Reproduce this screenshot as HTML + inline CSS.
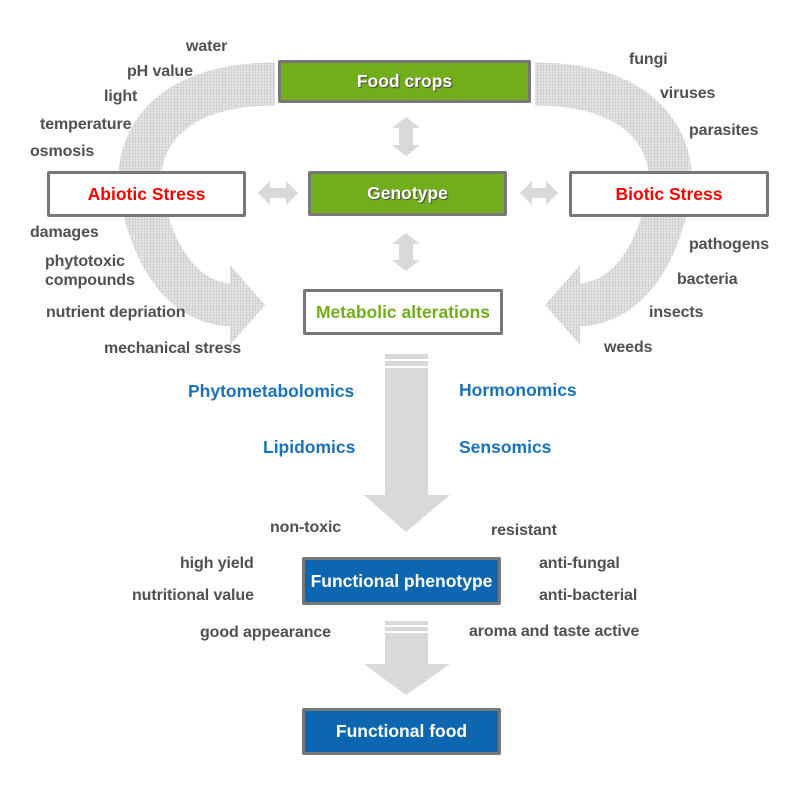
<!DOCTYPE html>
<html><head><meta charset="utf-8"><style>
body{margin:0;width:810px;height:795px;background:#fff;position:relative;overflow:hidden;font-family:"Liberation Sans",Arial,sans-serif;font-weight:bold}
.t{position:absolute;font-size:16px;color:#505050;white-space:nowrap;line-height:18px;letter-spacing:-0.1px}
.b{position:absolute;box-sizing:border-box;border:3px solid #777;display:flex;align-items:center;justify-content:center;font-size:17.5px;border-radius:2px}
.g{background:#72ad1b;color:#fff;text-shadow:1px 1px 1px #444}
.bl{background:#0d66b0;color:#fff}
.w{background:#fff}
.blue{position:absolute;font-size:17.5px;color:#1a72bc;white-space:nowrap}
</style></head><body>
<svg width="810" height="795" style="position:absolute;left:0;top:0">
<defs><pattern id="p" width="3" height="3" patternUnits="userSpaceOnUse"><rect width="3" height="3" fill="#e6e6e6"/><rect width="1" height="3" fill="#d0d0d0"/><rect width="3" height="1" fill="#d4d4d4"/></pattern></defs>
<path d="M275,84 C150,84 130,160 143,205 C158,268 190,305 234,305" fill="none" stroke="url(#p)" stroke-width="43"/>
<polygon points="230,265 265,305 230,345" fill="url(#p)"/>
<path d="M535,84 C660,84 680,160 667,205 C652,268 620,305 576,305" fill="none" stroke="url(#p)" stroke-width="43"/>
<polygon points="580,265 545,305 580,345" fill="url(#p)"/>
<g fill="#d9d9d9">
<polygon points="406,117 420,128 413,128 413,145 420,145 406,156 392,145 399,145 399,128 392,128"/>
<polygon points="406,233 420,244 413,244 413,260 420,260 406,271 392,260 399,260 399,244 392,244"/>
<polygon points="258,193 270,181 270,188 286,188 286,181 298,193 286,205 286,198 270,198 270,205"/>
<polygon points="520,193 532,181 532,188 546,188 546,181 558,193 546,205 546,198 532,198 532,205"/>
<rect x="385" y="354" width="43" height="5"/><rect x="385" y="361" width="43" height="5"/>
<polygon points="385,368 428,368 428,495 450,495 406,532 364,495 385,495"/>
<rect x="385" y="621" width="43" height="4"/><rect x="385" y="627" width="43" height="4"/>
<polygon points="385,633 428,633 428,664 450,664 406,695 364,664 385,664"/>
</g></svg>
<div class="b g" style="left:278px;top:60px;width:253px;height:43px">Food crops</div>
<div class="b g" style="left:308px;top:171px;width:199px;height:45px">Genotype</div>
<div class="b w" style="left:47px;top:171px;width:199px;height:46px;color:#f00">Abiotic Stress</div>
<div class="b w" style="left:569px;top:171px;width:200px;height:46px;color:#f00">Biotic Stress</div>
<div class="b w" style="left:303px;top:289px;width:200px;height:46px;color:#72ad1b">Metabolic alterations</div>
<div class="b bl" style="left:302px;top:557px;width:199px;height:48px">Functional phenotype</div>
<div class="b bl" style="left:302px;top:708px;width:199px;height:47px">Functional food</div>
<div class="t" style="left:186px;top:38px">water</div>
<div class="t" style="left:127px;top:63px">pH value</div>
<div class="t" style="left:104px;top:88px">light</div>
<div class="t" style="left:40px;top:116px">temperature</div>
<div class="t" style="left:30px;top:143px">osmosis</div>
<div class="t" style="left:30px;top:224px">damages</div>
<div class="t" style="left:45px;top:252px;line-height:19px">phytotoxic<br>compounds</div>
<div class="t" style="left:46px;top:304px">nutrient depriation</div>
<div class="t" style="left:104px;top:340px">mechanical stress</div>
<div class="t" style="left:629px;top:51px">fungi</div>
<div class="t" style="left:660px;top:85px">viruses</div>
<div class="t" style="left:689px;top:122px">parasites</div>
<div class="t" style="left:689px;top:236px">pathogens</div>
<div class="t" style="left:677px;top:271px">bacteria</div>
<div class="t" style="left:649px;top:304px">insects</div>
<div class="t" style="left:604px;top:339px">weeds</div>
<div class="blue" style="left:188px;top:381px">Phytometabolomics</div>
<div class="blue" style="left:263px;top:437px">Lipidomics</div>
<div class="blue" style="left:459px;top:380px">Hormonomics</div>
<div class="blue" style="left:459px;top:437px">Sensomics</div>
<div class="t" style="left:270px;top:519px">non-toxic</div>
<div class="t" style="left:180px;top:555px">high yield</div>
<div class="t" style="left:132px;top:587px">nutritional value</div>
<div class="t" style="left:200px;top:624px">good appearance</div>
<div class="t" style="left:491px;top:522px">resistant</div>
<div class="t" style="left:539px;top:555px">anti-fungal</div>
<div class="t" style="left:539px;top:587px">anti-bacterial</div>
<div class="t" style="left:469px;top:623px">aroma and taste active</div>
</body></html>
